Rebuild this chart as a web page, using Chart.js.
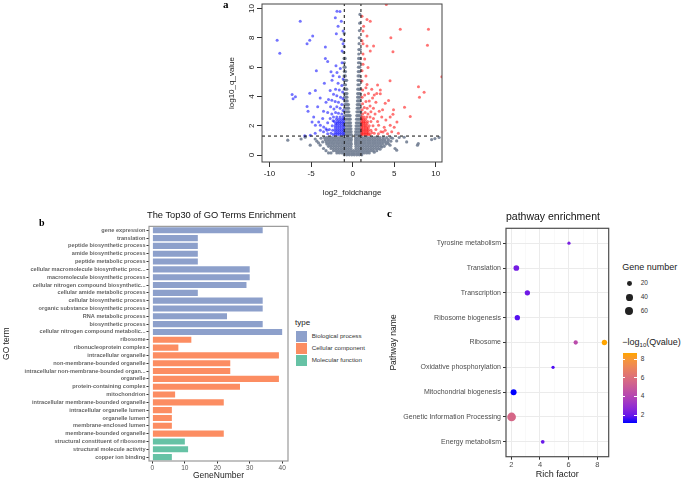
<!DOCTYPE html>
<html><head><meta charset="utf-8">
<title>Figure</title>
<script src="https://cdn.jsdelivr.net/npm/chart.js@4.4.1/dist/chart.umd.min.js"></script>
<style>
html,body{margin:0;padding:0;background:#fff;}
body{width:685px;height:481px;position:relative;overflow:hidden;font-family:'Liberation Sans',Arial,sans-serif;}
canvas{position:absolute;}
.t{position:absolute;white-space:nowrap;line-height:1;}
.pl{position:absolute;font-family:'Liberation Serif','Times New Roman',serif;font-weight:bold;line-height:1;color:#000;}
</style></head>
<body>
<canvas id="cA" width="228" height="205" style="left:222px;top:0px"></canvas>
<canvas id="cB" width="295" height="259" style="left:0px;top:222px"></canvas>
<canvas id="cC" width="229" height="259" style="left:386px;top:222px"></canvas>
<div class="pl" style="left:223px;top:-1px;font-size:11px">a</div>
<div class="pl" style="left:39px;top:217.5px;font-size:10px">b</div>
<div class="pl" style="left:387px;top:208px;font-size:11px">c</div>
<div class="t" style="left:147px;top:211.4px;font-size:9.3px;color:#111">The Top30 of GO Terms Enrichment</div>
<div class="t" style="left:506px;top:210.8px;font-size:10.5px;color:#111">pathway enrichment</div>
<div id="legB"></div>
<div id="legC"></div>
<script>
Chart.defaults.font.family = "'Liberation Sans', Arial, sans-serif";
Chart.defaults.animation = false;
Chart.defaults.plugins.legend.display = false;
Chart.defaults.plugins.tooltip.enabled = false;

// ================= Panel a : volcano =================
const volcanoXTicks = [-10, -5, 0, 5, 10];
const volcanoYTicks = [0, 2, 4, 6, 8, 10];
const volcanoXRange = [-10.9, 10.75];
const volcanoYRange = [-0.47, 10.31];
const qThreshold = 1.3;
const fcThresholds = [-1, 1];

// gray (non-significant) points, rows of [log10 q, [log2 fold changes]]
const grayRows = [
  [0.02,[-1.0,-0.7,-0.4,-0.1,0.2,0.5,0.8,1.1]],
  [0.15,[-1.9,-1.6,-1.3,-1.0,-0.7,-0.4,-0.1,0.2,0.5,0.8,1.1,1.4,1.7,2.0]],
  [0.3,[-2.3,-2.0,-1.7,-1.4,-1.1,-0.8,-0.5,-0.2,0.1,0.4,0.7,1.0,1.3,1.6,1.9,2.2,2.5]],
  [0.45,[-2.6,-2.3,-2.0,-1.7,-1.4,-1.1,-0.8,-0.5,-0.2,0.4,0.7,1.0,1.3,1.6,1.9,2.2,2.5,2.8,3.1]],
  [0.6,[-2.9,-2.6,-2.3,-2.0,-1.7,-1.4,-1.1,-0.8,-0.5,-0.2,0.4,0.7,1.0,1.3,1.6,1.9,2.2,2.5,2.8,3.1,3.4,3.8]],
  [0.75,[-3.1,-2.8,-2.5,-2.2,-1.9,-1.6,-1.3,-1.0,-0.7,-0.4,-0.15,0.35,0.6,0.9,1.2,1.5,1.8,2.1,2.4,2.7,3.0,3.3,3.6,4.0]],
  [0.9,[-3.2,-2.9,-2.6,-2.3,-2.0,-1.7,-1.4,-1.1,-0.8,-0.5,-0.2,0.35,0.6,0.9,1.2,1.5,1.8,2.1,2.4,2.7,3.0,3.3,3.6,3.9,4.2]],
  [1.05,[-3.3,-3.0,-2.7,-2.4,-2.1,-1.8,-1.5,-1.2,-0.9,-0.6,-0.35,-0.15,0.35,0.6,0.9,1.2,1.5,1.8,2.1,2.4,2.7,3.0,3.3,3.6,3.9,4.3]],
  [1.2,[-3.4,-3.1,-2.8,-2.5,-2.2,-1.9,-1.6,-1.3,-1.0,-0.7,-0.45,-0.15,0.35,0.6,0.9,1.2,1.5,1.8,2.1,2.4,2.7,3.0,3.3,3.7,4.1,4.6]],
  [1.4,[-0.95,-0.75,-0.55,-0.35,-0.15,0.35,0.55,0.75,0.95]],
  [1.6,[-0.95,-0.75,-0.55,-0.35,-0.18,0.37,0.57,0.77,0.95]],
  [1.8,[-0.95,-0.75,-0.55,-0.35,-0.2,0.4,0.58,0.77,0.95]],
  [2.0,[-0.95,-0.75,-0.55,-0.38,-0.22,0.42,0.6,0.78,0.95]],
  [2.2,[-0.95,-0.75,-0.55,-0.4,-0.25,0.45,0.62,0.8,0.95]],
  [2.45,[-0.95,-0.78,-0.6,-0.42,-0.28,0.47,0.64,0.8,0.95]],
  [2.7,[-0.95,-0.78,-0.6,-0.45,-0.3,0.5,0.66,0.82,0.97]],
  [2.95,[-0.95,-0.8,-0.62,-0.45,0.52,0.68,0.84,0.97]],
  [3.2,[-0.95,-0.8,-0.62,-0.48,0.55,0.7,0.85]],
  [3.45,[-0.95,-0.8,-0.65,-0.5,0.56,0.72,0.87]],
  [3.7,[-0.95,-0.8,-0.65,0.58,0.73,0.88]],
  [3.95,[-0.98,-0.82,-0.68,0.6,0.75,0.9]],
  [4.2,[-0.98,-0.82,-0.68,0.6,0.76,0.9]],
  [4.5,[-0.98,-0.84,-0.7,0.62,0.78,0.92]],
  [4.8,[-1.0,-0.85,0.64,0.8]],
  [5.1,[-1.0,-0.85,-0.72,0.65,0.82,0.95]],
  [5.4,[-1.02,-0.88,0.66,0.84]],
  [5.7,[-1.0,-0.86,0.68,0.86]],
  [6.0,[-1.03,-0.9,0.7,0.86]],
  [6.3,[-1.0,0.7,0.88]],
  [6.6,[-1.02,-0.9,0.72,0.9]],
  [6.9,[0.74]],[7.0,[-1.05]],[7.2,[0.75,0.92]],[7.4,[-1.0]],[7.6,[0.78]],
  [7.8,[-1.04]],[8.0,[0.8]],[8.3,[-1.0]],[8.5,[0.82]],[9.0,[0.85]],[9.6,[0.88]]
];
const grayScatter = [[-7.8,1.02],[-5.7,1.22],[-5.1,0.68],[-4.1,0.83],[-3.9,0.68],[-3.5,0.45],[-4.5,1.1],[-3.8,1.15],[-4.3,0.95],[-3.6,0.9],
  [4.5,0.68],[5.3,0.34],[5.1,0.45],[5.3,0.97],[4.3,0.79],[4.6,0.95],[4.8,1.15],[5.6,1.2],[7.8,0.68],[7.9,0.79],[9.5,1.06],[9.9,1.13],
  [6.2,1.22],[-2.6,0.15],[2.6,0.2],[3.3,0.4],[-3.2,0.3],[10.4,1.2],[-2.9,0.15],[2.9,0.3],[3.5,0.55],[-6.2,1.1],[6.5,0.9]];

// blue (down-regulated, significant)
const blueRows = [
  [1.4,[-1.1,-1.35,-1.6,-1.85,-2.1,-2.35]],
  [1.55,[-1.1,-1.35,-1.6,-1.85,-2.1]],
  [1.7,[-1.1,-1.35,-1.6,-1.85,-2.1,-2.4]],
  [1.85,[-1.1,-1.35,-1.6,-1.85,-2.1]],
  [2.0,[-1.1,-1.35,-1.6,-1.85,-2.1,-2.45]],
  [2.15,[-1.1,-1.35,-1.6,-1.85,-2.05]],
  [2.3,[-1.1,-1.35,-1.6,-1.85,-2.2]],
  [2.45,[-1.1,-1.35,-1.65,-1.95]],
  [2.6,[-1.15,-1.5,-1.9,-2.3]]
];
const blueScatter = [[-2.6,1.5],[-2.8,1.75],[-2.35,2.35],[-2.7,2.5],[-3.0,2.2],[-3.2,1.8],[-3.5,1.6],[-3.0,1.45],[-1.3,2.8],[-1.7,2.85],
  [-2.05,2.9],[-2.5,2.8],[-1.15,3.05],[-1.5,3.2],[-1.9,3.3],[-2.25,3.15],[-2.65,3.3],[-1.3,3.45],[-1.7,3.6],[-2.1,3.65],[-2.5,3.75],
  [-1.15,3.85],[-1.45,3.95],[-1.9,4.05],[-2.3,4.15],[-1.2,4.3],[-1.6,4.45],[-2.05,4.5],[-2.7,4.4],[-1.3,4.75],[-1.75,4.9],[-2.48,5.1],
  [-3.4,4.9],[-1.15,5.2],[-1.6,5.35],[-2.36,5.42],[-1.88,5.64],[-2.6,5.69],[-1.48,5.91],[-1.27,6.3],[-2.0,6.1],[-3.0,6.38],[-3.28,6.6],
  [-3.28,7.38],[-1.27,7.1],[-1.15,7.6],[-1.37,7.9],[-1.96,8.28],[-1.15,8.46],[-1.75,8.8],[-1.36,9.14],[-2.08,9.37],[-1.52,9.8],[-1.88,9.82],
  [-9.08,7.83],[-8.76,6.95],[-6.3,9.14],[-4.8,8.12],[-5.16,7.83],[-5.48,7.6],[-4.36,5.75],[-7.28,4.13],[-7.16,3.84],[-6.88,3.99],
  [-5.48,3.32],[-5.36,3.0],[-4.48,4.4],[-5.16,4.22],[-4.88,2.26],[-3.88,2.03],[-5.08,1.35],[-5.76,1.32],[-4.68,2.6],[-4.08,2.26],
  [-3.48,1.92],[-3.08,1.69],[-3.88,1.69],[-4.48,2.03],[-3.9,3.9],[-3.2,3.6],[-3.5,3.0],[-3.0,2.9],[-4.2,3.3],[-3.6,2.5],[-2.9,3.8],[-4.5,1.5]];

// red (up-regulated, significant)
const redRows = [
  [1.4,[1.1,1.3,1.5,1.7,1.9,2.1]],
  [1.55,[1.1,1.3,1.5,1.7,1.9]],
  [1.7,[1.1,1.3,1.5,1.7,1.9,2.2]],
  [1.85,[1.1,1.3,1.5,1.7,1.9]],
  [2.0,[1.1,1.3,1.5,1.7,2.0]],
  [2.15,[1.1,1.3,1.5,1.75]],
  [2.3,[1.1,1.3,1.5,1.8]],
  [2.45,[1.1,1.3,1.55]],
  [2.6,[1.1,1.35,1.7]]
];
const redScatter = [[2.3,1.55],[2.6,1.5],[2.8,1.75],[2.45,2.0],[2.2,2.3],[3.1,1.45],[3.4,1.6],[3.65,1.58],[2.1,2.6],[2.5,2.5],[1.2,2.8],
  [1.5,2.9],[1.85,2.8],[2.2,2.95],[2.7,2.8],[3.0,2.3],[1.15,3.1],[1.4,3.25],[1.75,3.2],[2.1,3.35],[2.5,3.2],[1.2,3.5],[1.6,3.65],[2.0,3.7],
  [2.4,3.9],[1.15,3.95],[1.45,4.1],[1.9,4.2],[1.2,4.45],[1.6,4.6],[2.3,4.5],[1.73,4.82],[3.0,4.78],[3.33,4.44],[1.13,5.06],[1.6,5.4],
  [1.13,5.75],[1.85,5.97],[1.25,6.2],[1.45,6.55],[1.25,6.9],[2.12,7.1],[1.73,7.45],[2.52,7.45],[1.25,7.6],[1.13,7.8],[1.73,8.12],[1.25,8.46],
  [1.32,8.8],[2.12,9.14],[1.73,9.25],[1.13,9.48],[4.05,10.27],[4.6,8.0],[5.73,8.58],[9.12,8.58],[9.0,7.49],[4.85,7.06],[10.73,5.35],
  [4.5,5.08],[7.92,4.67],[8.04,3.95],[8.6,4.29],[6.24,3.27],[6.93,2.64],[4.92,3.09],[4.85,2.78],[3.92,3.54],[4.52,2.03],[4.2,1.45],
  [4.0,2.4],[3.5,2.6],[3.2,3.0],[3.8,1.9],[4.7,1.6],[5.5,1.5],[2.8,3.6],[2.6,4.1],[3.6,3.1],[4.32,3.72],[3.33,4.18],[4.52,2.6],
  [5.33,2.26],[3.12,2.03],[3.92,1.69],[2.9,4.2],[5.0,1.9]];

// ================= Panel b : GO bar chart =================
const goTerms = ['gene expression','translation','peptide biosynthetic process','amide biosynthetic process','peptide metabolic process',
  'cellular macromolecule biosynthetic proc...','macromolecule biosynthetic process','cellular nitrogen compound biosynthetic...',
  'cellular amide metabolic process','cellular biosynthetic process','organic substance biosynthetic process','RNA metabolic process',
  'biosynthetic process','cellular nitrogen compound metabolic...','ribosome','ribonucleoprotein complex','intracellular organelle',
  'non-membrane-bounded organelle','intracellular non-membrane-bounded organ...','organelle','protein-containing complex','mitochondrion',
  'intracellular membrane-bounded organelle','intracellular organelle lumen','organelle lumen','membrane-enclosed lumen',
  'membrane-bounded organelle','structural constituent of ribosome','structural molecule activity','copper ion binding'];
const geneNumbers = [34,14,14,14,14,30,30,29,14,34,34,23,34,40,12,8,39,24,24,39,27,7,22,6,6,6,22,10,11,6];
const goTypes = ['BP','BP','BP','BP','BP','BP','BP','BP','BP','BP','BP','BP','BP','BP',
  'CC','CC','CC','CC','CC','CC','CC','CC','CC','CC','CC','CC','CC','MF','MF','MF'];
const typeNames = {BP:'Biological process', CC:'Cellular component', MF:'Molecular function'};
const typeColors = {BP:'#8DA0CB', CC:'#FC8D62', MF:'#66C2A5'};
const geneTicks = [0, 10, 20, 30, 40];

// ================= Panel c : pathway bubble chart =================
const pathways = ['Tyrosine metabolism','Translation','Transcription','Ribosome biogenesis','Ribosome',
  'Oxidative phosphorylation','Mitochondrial biogenesis','Genetic Information Processing','Energy metabolism'];
const pointPathway = [0, 1, 2, 3, 4, 4, 5, 6, 7, 8];
const richFactor   = [6.02, 2.35, 3.12, 2.42, 6.49, 8.49, 4.91, 2.16, 2.02, 4.19];
const geneNumber   = [8, 28, 24, 24, 15, 24, 8, 31, 69, 11];
const qValue       = [2.3, 2.2, 2.1, 1.7, 4.3, 8.64, 1.6, 1.18, 5.6, 2.0];
const richTicks = [2, 4, 6, 8];
const richMinorTicks = [3, 5, 7];
const sizeLegend = [20, 40, 60];
const colorbarTicks = [2, 4, 6, 8];

// ---------- helpers ----------
function rowsToPoints(rows){ const out=[]; rows.forEach(([y,xs])=>xs.forEach(x=>out.push({x,y}))); return out; }
const pairsToPoints = arr => arr.map(([x,y])=>({x,y}));
const fixedTicks = vals => s => { s.ticks = vals.map(v=>({value:v})); };

function toLin(c){c/=255;return c<=0.04045?c/12.92:Math.pow((c+0.055)/1.055,2.4);}
function fromLin(c){const v=c<=0.0031308?12.92*c:1.055*Math.pow(c,1/2.4)-0.055;return Math.round(Math.max(0,Math.min(1,v))*255);}
const Xn=0.95047,Yn=1,Zn=1.08883;
function fL(t){return t>0.008856?Math.cbrt(t):(7.787*t+16/116);}
function fiL(t){return t>0.206893?t*t*t:(t-16/116)/7.787;}
function rgbToLab(rgb){const [r,g,b]=rgb.map(toLin);const X=r*0.4124+g*0.3576+b*0.1805,Y=r*0.2126+g*0.7152+b*0.0722,Z=r*0.0193+g*0.1192+b*0.9505;
  const fx=fL(X/Xn),fy=fL(Y/Yn),fz=fL(Z/Zn);return [116*fy-16,500*(fx-fy),200*(fy-fz)];}
function labToRgb(l){const fy=(l[0]+16)/116,fx=fy+l[1]/500,fz=fy-l[2]/200;const X=Xn*fiL(fx),Y=Yn*fiL(fy),Z=Zn*fiL(fz);
  return [fromLin(3.2406*X-1.5372*Y-0.4986*Z),fromLin(-0.9689*X+1.8758*Y+0.0415*Z),fromLin(0.0557*X-0.2040*Y+1.0570*Z)];}
const labLow = rgbToLab([0,0,255]), labHigh = rgbToLab([255,165,0]);
const qMin = Math.min(...qValue), qMax = Math.max(...qValue);
function colorAtT(t){const l=labLow.map((v,i)=>v+(labHigh[i]-v)*t);const c=labToRgb(l);return `rgb(${c[0]},${c[1]},${c[2]})`;}
function colorFor(q){return colorAtT(Math.max(0,Math.min(1,(q-qMin)/(qMax-qMin))));}
function geneRadius(n){return 0.2+0.5*Math.sqrt(n);}

const framePlugin = {
  id:'frame',
  afterDatasetsDraw(chart, args, opts){
    const {ctx, chartArea:a} = chart;
    ctx.save(); ctx.strokeStyle = opts.color; ctx.lineWidth = opts.width;
    ctx.strokeRect(a.left, a.top, a.right-a.left, a.bottom-a.top); ctx.restore();
  }
};
const rotYLabels = {
  id:'rotY',
  afterDraw(chart){
    const s = chart.scales.y, ctx = chart.ctx;
    ctx.save(); ctx.font = "8px 'Liberation Sans', Arial, sans-serif"; ctx.fillStyle = '#222';
    ctx.textAlign = 'center'; ctx.textBaseline = 'middle';
    volcanoYTicks.forEach(v=>{ const y=s.getPixelForValue(v); ctx.save(); ctx.translate(chart.chartArea.left-10.5, y);
      ctx.rotate(-Math.PI/2); ctx.fillText(String(v),0,0); ctx.restore(); });
    ctx.restore();
  }
};

// ---------- Chart a ----------
const dashStyle = {type:'line', borderColor:'#222', borderWidth:1.1, borderDash:[3,3], pointRadius:0, order:0};
new Chart(document.getElementById('cA'), {
  type:'scatter',
  data:{datasets:[
    Object.assign({data:[{x:volcanoXRange[0],y:qThreshold},{x:volcanoXRange[1],y:qThreshold}]}, dashStyle),
    Object.assign({data:[{x:fcThresholds[0],y:volcanoYRange[0]},{x:fcThresholds[0],y:volcanoYRange[1]}]}, dashStyle),
    Object.assign({data:[{x:fcThresholds[1],y:volcanoYRange[0]},{x:fcThresholds[1],y:volcanoYRange[1]}]}, dashStyle),
    {data:rowsToPoints(redRows).concat(pairsToPoints(redScatter)), backgroundColor:'rgba(255,0,0,0.55)', pointRadius:1.5, borderWidth:0, order:1},
    {data:rowsToPoints(blueRows).concat(pairsToPoints(blueScatter)), backgroundColor:'rgba(0,0,255,0.55)', pointRadius:1.5, borderWidth:0, order:2},
    {data:rowsToPoints(grayRows).concat(pairsToPoints(grayScatter)), backgroundColor:'rgba(115,127,148,0.9)', pointRadius:1.6, borderWidth:0, order:3}
  ]},
  options:{
    responsive:false, animation:false,
    layout:{padding:{top:3,right:8,left:0,bottom:0}},
    scales:{
      x:{type:'linear', min:volcanoXRange[0], max:volcanoXRange[1], afterBuildTicks:fixedTicks(volcanoXTicks), afterFit:s=>{s.height=43;},
        grid:{display:true, drawOnChartArea:false, drawTicks:true, tickLength:5, tickColor:'#333'}, border:{display:false},
        ticks:{font:{size:8}, color:'#222', padding:2, maxRotation:0, autoSkip:false},
        title:{display:true, text:'log2_foldchange', font:{size:8}, color:'#222', padding:{top:0,bottom:7}}},
      y:{type:'linear', min:volcanoYRange[0], max:volcanoYRange[1], afterBuildTicks:fixedTicks(volcanoYTicks), afterFit:s=>{s.width=40;},
        grid:{display:true, drawOnChartArea:false, drawTicks:true, tickLength:5, tickColor:'#333'}, border:{display:false},
        ticks:{display:false},
        title:{display:true, text:'log10_q_value', font:{size:8}, color:'#222', padding:{top:4.7,bottom:0}}}
    },
    plugins:{frame:{color:'#444', width:1}}
  },
  plugins:[framePlugin, rotYLabels]
});

// ---------- Chart b ----------
new Chart(document.getElementById('cB'), {
  type:'bar',
  data:{labels:goTerms, datasets:[{data:geneNumbers, backgroundColor:goTypes.map(t=>typeColors[t]), barPercentage:0.78, categoryPercentage:1, borderWidth:0}]},
  options:{
    indexAxis:'y', responsive:false, animation:false,
    layout:{padding:{top:3,right:7,left:0,bottom:0}},
    scales:{
      x:{type:'linear', min:-1.05, max:41.8, afterBuildTicks:fixedTicks(geneTicks), afterFit:s=>{s.height=20;},
        grid:{drawOnChartArea:false, tickLength:2.5, tickColor:'#333'}, border:{display:false},
        ticks:{font:{size:6.5}, color:'#555', padding:0.5, maxRotation:0},
        title:{display:true, text:'GeneNumber', font:{size:8.5}, color:'#222', padding:{top:0,bottom:0}}},
      y:{type:'category', offset:true, afterFit:s=>{s.width=149;},
        grid:{drawOnChartArea:false, offset:false, tickLength:2.5, tickColor:'#333'}, border:{display:false},
        ticks:{autoSkip:false, font:{size:5.6, weight:'bold'}, color:'#666', padding:1},
        title:{display:true, text:'GO term', font:{size:8.5}, color:'#222', padding:{top:1.6,bottom:0}}}
    },
    plugins:{frame:{color:'#999', width:1.2}}
  },
  plugins:[framePlugin]
});

// ---------- Chart c ----------
new Chart(document.getElementById('cC'), {
  type:'bubble',
  data:{datasets:[{
    data:richFactor.map((x,i)=>({x:x, y:pointPathway[i]+1, r:geneRadius(geneNumber[i])})),
    backgroundColor:qValue.map(colorFor), borderWidth:0
  }]},
  options:{
    responsive:false, animation:false,
    layout:{padding:{top:6.3,right:6.3,left:0,bottom:0}},
    scales:{
      x:{type:'linear', min:1.63, max:8.79, afterBuildTicks:fixedTicks(richTicks.concat(richMinorTicks).sort((a,b)=>a-b)), afterFit:s=>{s.height=24.3;},
        grid:{color:c=>richTicks.includes(c.tick.value)?'#EBEBEB':'#F5F5F5', lineWidth:c=>richTicks.includes(c.tick.value)?1:0.6,
          tickColor:c=>richTicks.includes(c.tick.value)?'#333':'rgba(0,0,0,0)', tickLength:3}, border:{display:false},
        ticks:{callback:v=>richTicks.includes(v)?String(v):'', font:{size:7.5}, color:'#4D4D4D', padding:1, maxRotation:0, autoSkip:false},
        title:{display:true, text:'Rich factor', font:{size:9}, color:'#222', padding:{top:0,bottom:0.6}}},
      y:{type:'linear', reverse:true, min:0.4, max:9.6, afterBuildTicks:fixedTicks(pathways.map((p,i)=>i+1)), afterFit:s=>{s.width=120;},
        grid:{color:'#EBEBEB', tickColor:'#333', tickLength:3}, border:{display:false},
        ticks:{autoSkip:false, callback:v=>pathways[v-1], font:{size:7}, color:'#4D4D4D', padding:2},
        title:{display:true, text:'Pathway name', font:{size:8.5}, color:'#222', padding:{top:2.2,bottom:0}}}
    },
    plugins:{frame:{color:'#4D4D4D', width:1.2}}
  },
  plugins:[framePlugin]
});

// ---------- legends (HTML) ----------
function addText(parent, txt, left, top, size, color, extra){
  const d=document.createElement('div'); d.className='t'; d.innerHTML=txt;
  d.style.left=left+'px'; d.style.top=top+'px'; d.style.fontSize=size+'px'; d.style.color=color||'#222';
  if(extra) Object.assign(d.style, extra); parent.appendChild(d); return d;
}
function addBox(parent, left, top, w, h, bg, extra){
  const d=document.createElement('div'); d.style.position='absolute'; d.style.left=left+'px'; d.style.top=top+'px';
  d.style.width=w+'px'; d.style.height=h+'px'; d.style.background=bg; if(extra) Object.assign(d.style, extra); parent.appendChild(d); return d;
}
const legB = document.getElementById('legB');
addText(legB, 'type', 295, 319.3, 8, '#222');
['BP','CC','MF'].forEach((k,i)=>{
  const cy = 336.2 + i*12.3;
  addBox(legB, 296, cy-5.5, 11, 11, typeColors[k]);
  addText(legB, typeNames[k], 311.7, cy-3.6, 6.2, '#333');
});

const legC = document.getElementById('legC');
addText(legC, 'Gene number', 622.3, 262.6, 9, '#222');
sizeLegend.forEach((n,i)=>{
  const cy = [283.3, 297.3, 311][i], r = geneRadius(n);
  addBox(legC, 629.3-r, cy-r, 2*r, 2*r, '#222', {borderRadius:'50%'});
  addText(legC, String(n), 640.7, cy-3.2, 6.5, '#333');
});
addText(legC, '\u2212log<sub style="font-size:6px;vertical-align:-2px">10</sub>(Qvalue)', 622.3, 337.6, 9, '#222');
const cbTop = 353, cbBot = 423, cbLeft = 622.7, cbW = 14;
const stops = []; for(let k=0;k<=10;k++){ stops.push(colorAtT(k/10)+' '+(k*10)+'%'); }
addBox(legC, cbLeft, cbTop, cbW, cbBot-cbTop, 'linear-gradient(to top,'+stops.join(',')+')');
colorbarTicks.forEach(v=>{
  const y = cbBot - (v-qMin)/(qMax-qMin)*(cbBot-cbTop);
  addBox(legC, cbLeft, y-0.4, 2.8, 0.8, '#fff');
  addBox(legC, cbLeft+cbW-2.8, y-0.4, 2.8, 0.8, '#fff');
  addText(legC, String(v), 640.7, y-3.2, 6.5, '#333');
});
</script>
</body></html>
